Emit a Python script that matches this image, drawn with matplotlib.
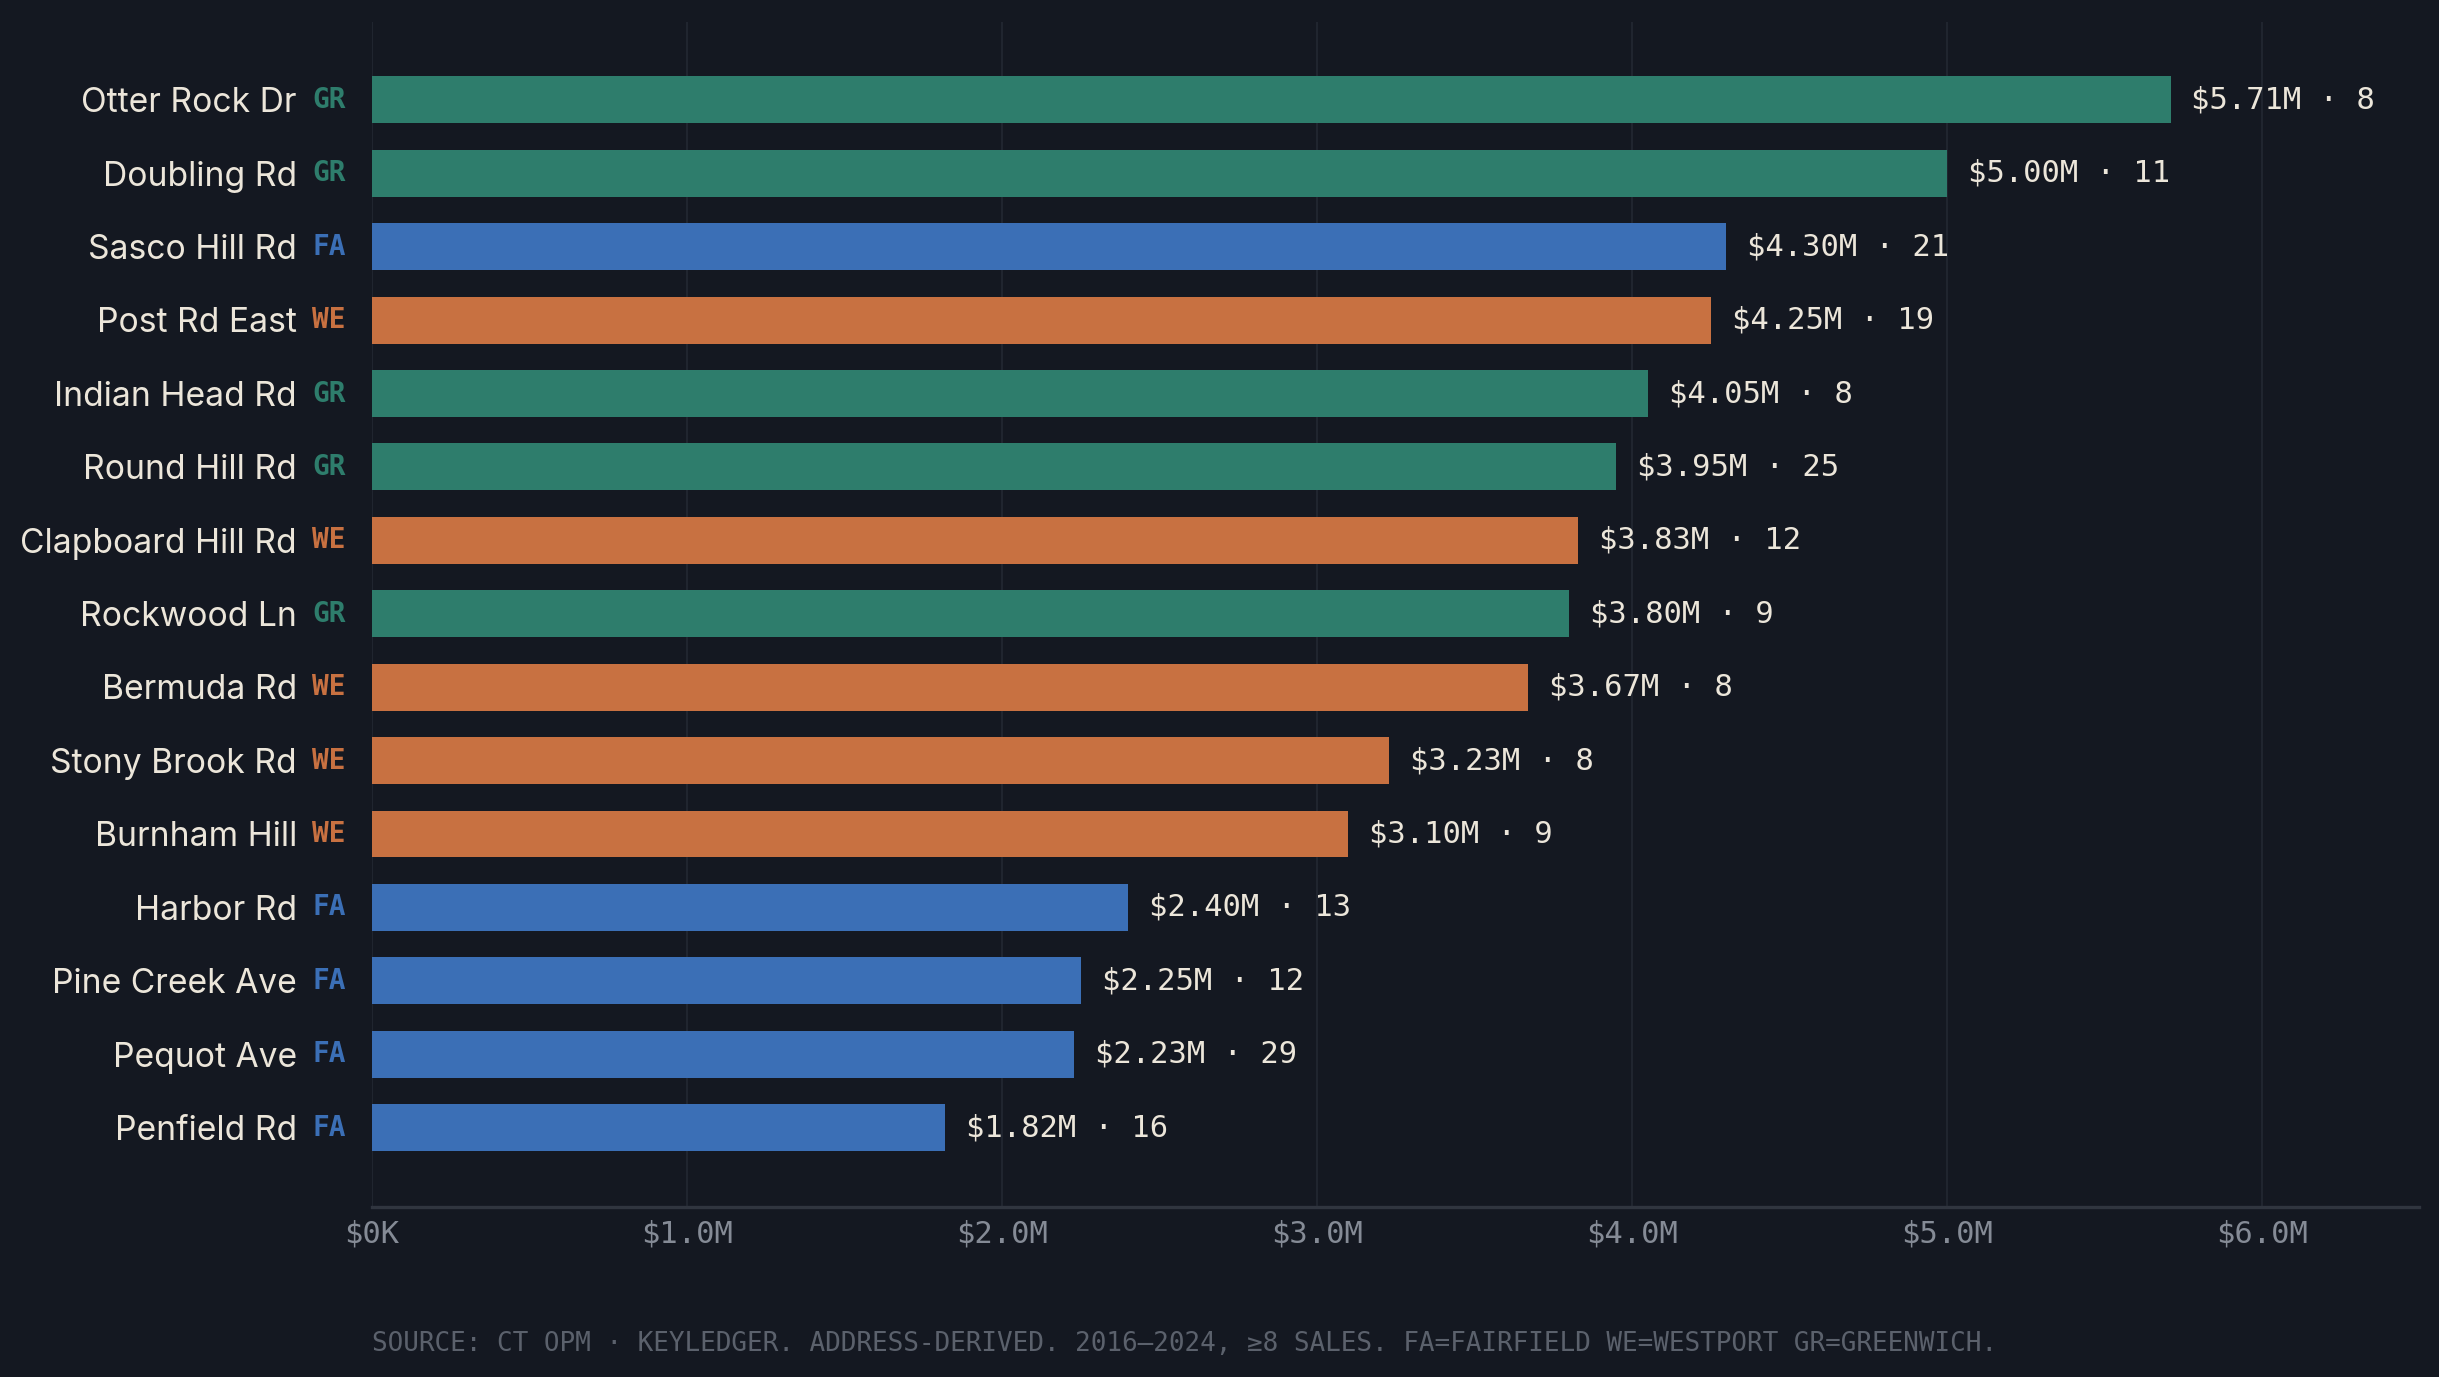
import matplotlib
matplotlib.use("Agg")
import matplotlib.pyplot as plt
from matplotlib.ticker import FuncFormatter, MultipleLocator

names = ["Otter Rock Dr", "Doubling Rd", "Sasco Hill Rd", "Post Rd East", "Indian Head Rd",
         "Round Hill Rd", "Clapboard Hill Rd", "Rockwood Ln", "Bermuda Rd", "Stony Brook Rd",
         "Burnham Hill", "Harbor Rd", "Pine Creek Ave", "Pequot Ave", "Penfield Rd"]
towns = ["GR", "GR", "FA", "WE", "GR", "GR", "WE", "GR", "WE", "WE", "WE", "FA", "FA", "FA", "FA"]
medians_m = [5.71, 5.00, 4.30, 4.25, 4.05, 3.95, 3.83, 3.80, 3.67, 3.23, 3.10, 2.40, 2.25, 2.23, 1.82]
sales = [8, 11, 21, 19, 8, 25, 12, 9, 8, 8, 9, 13, 12, 29, 16]

town_colors = {"GR": "#2e7d6c", "FA": "#3b6fb6", "WE": "#c87141"}

BG = "#141821"
TEXT = "#ece6da"
TICK = "#858b96"
FOOT = "#5b616c"
GRID = "#232833"
AXIS = "#30353f"
MONO = ["DejaVu Sans Mono"]

fig = plt.figure(figsize=(12.195, 6.885), dpi=200, facecolor=BG)
ax = fig.add_axes([0.1525, 0.1235, 0.992 - 0.1525, 0.984 - 0.1235])
ax.set_facecolor(BG)

ypos = list(range(len(names)))
colors = [town_colors[t] for t in towns]
ax.barh(ypos, medians_m, height=0.64, color=colors, zorder=3)

ax.set_xlim(0, 6.5)
ax.set_ylim(len(names) - 1 + 1.08, -1.06)

ax.xaxis.set_major_locator(MultipleLocator(1.0))
ax.xaxis.set_major_formatter(FuncFormatter(lambda v, p: "$0K" if v == 0 else f"${v:.1f}M"))
ax.tick_params(axis="x", length=0, pad=4.5, labelcolor=TICK, labelsize=11)
for lab in ax.get_xticklabels():
    lab.set_family(MONO)
ax.set_yticks([])
ax.grid(axis="x", color=GRID, linewidth=0.6, zorder=0)

for s in ["top", "right", "left"]:
    ax.spines[s].set_visible(False)
ax.spines["bottom"].set_color(AXIS)
ax.spines["bottom"].set_linewidth(1.2)

for i, (n, t, v, s) in enumerate(zip(names, towns, medians_m, sales)):
    ax.annotate(n, xy=(0, i), xycoords=("axes fraction", "data"), xytext=(-27, -1.2),
                textcoords="offset points", ha="right", va="center", color=TEXT,
                fontsize=12.1, family=["Inter", "DejaVu Sans"])
    ax.annotate(t, xy=(0, i), xycoords=("axes fraction", "data"), xytext=(-21.5, 0),
                textcoords="offset points", ha="left", va="center", color=town_colors[t],
                fontsize=10, fontweight="bold", family=MONO)
    ax.annotate(f"${v:.2f}M \u00b7 {s}", xy=(v, i), xytext=(7.5, 0), textcoords="offset points",
                ha="left", va="center", color=TEXT, fontsize=11, family=MONO)

fig.text(0.1525, 1 - 1344 / 1377,
         "SOURCE: CT OPM \u00b7 KEYLEDGER. ADDRESS-DERIVED. 2016\u20132024, \u22658 SALES. FA=FAIRFIELD WE=WESTPORT GR=GREENWICH.",
         ha="left", va="center", color=FOOT, fontsize=9.35, family=MONO)

fig.savefig("out.png", dpi=200, facecolor=BG)
